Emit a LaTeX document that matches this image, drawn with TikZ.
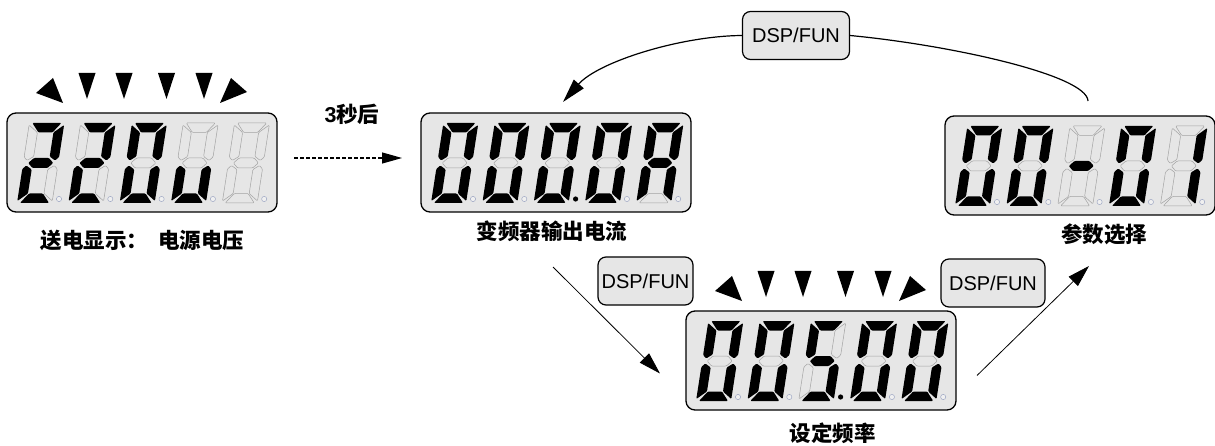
\documentclass[tikz,border=0pt]{standalone}
\usepackage{fontspec}
\setmainfont{Liberation Sans}
\newfontfamily\cjk{Noto Sans CJK SC}
\usetikzlibrary{arrows.meta,positioning,calc}
\definecolor{lcdbg}{HTML}{E6E6E6}
\definecolor{segoff}{HTML}{A3A3A3}
\definecolor{dotoff}{HTML}{9FA8C4}

% one seven-segment digit: #1 origin, #2..#8 segments a..g, #9 decimal point
\newcommand{\lcddigit}[9]{%
  \begin{scope}[shift={#1}, y=1pt]
    \begin{scope}[xslant=0.155]
      \path[seg#2] (3,80) -- (32,80) -- (24.5,70.5) -- (10.5,70.5) -- cycle;
      \path[seg#3] (31.5,42.5) -- (35,46) -- (35,78) -- (25.5,70.5) -- (25.5,46.5) -- cycle;
      \path[seg#4] (31.5,37.5) -- (35,34) -- (35,2) -- (25.5,9.5) -- (25.5,33.5) -- cycle;
      \path[seg#5] (10.5,9.5) -- (24.5,9.5) -- (32,0) -- (3,0) -- cycle;
      \path[seg#6] (3.5,37.5) -- (0,34) -- (0,2) -- (9.5,9.5) -- (9.5,33.5) -- cycle;
      \path[seg#7] (3.5,42.5) -- (0,46) -- (0,78) -- (9.5,70.5) -- (9.5,46.5) -- cycle;
      \path[seg#8] (5,40) -- (10,45) -- (25,45) -- (30,40) -- (25,35) -- (10,35) -- cycle;
    \end{scope}
    \path[dot#9] (42,4) circle[radius=2.6];
  \end{scope}}

% the six blinking marks above a display
\newcommand{\ledmarks}[1]{%
  \begin{scope}[shift={(#1.north west)}]
    \fill[ledtri] (29,-20) -- (46,-35) -- (56,-10) -- cycle;
    \foreach \cx in {80,117,159.5,197}
      \fill[ledtri] (\cx-8.5,-40) -- (\cx+8.5,-40) -- (\cx,-14) -- cycle;
    \fill[ledtri] (213,-10) -- (224,-35) -- (240,-21) -- cycle;
  \end{scope}}

\begin{document}
\begin{tikzpicture}[
  x=1pt, y=-1pt,
  lcd/.style={draw, line width=1.3pt, rounded corners=9pt, fill=lcdbg, minimum width=270pt,
    minimum height=99pt, inner sep=0pt, outer sep=0pt},
  seg1/.style={fill=black, rounded corners=1pt},
  seg0/.style={draw=segoff, fill=lcdbg, line width=0.5pt, rounded corners=1pt},
  dot1/.style={fill=black},
  dot0/.style={draw=dotoff, fill=white!94!black, line width=0.5pt},
  ledtri/.style={fill=black},
  key/.style={draw, line width=1.2pt, rounded corners=8pt, fill=lcdbg, minimum height=48pt,
    inner sep=0pt, font=\fontsize{20}{24}\selectfont},
  lab/.style={inner sep=0pt, font={\fontsize{21.5}{26}\cjk\bfseries}},
  arr/.style={-{Triangle[length=22pt, width=13pt]}, line width=0.8pt},
  dasharr/.style={-{Triangle[length=20pt, width=11pt]}, line width=1.2pt, dash pattern=on 4pt off 2pt}
]
\useasboundingbox (0,0) rectangle (1215,446);

\node[lcd, anchor=north west] (disp1) at (7,113) {};
\node[lcd, anchor=north west] (disp2) at (421,113) {};
\node[lcd, anchor=north west] (disp3) at (945,116) {};
\node[lcd, anchor=north west] (disp4) at (686,311) {};

% 220u
\begin{scope}[shift={(disp1.north west)}]
  \lcddigit{(10,90)}11011010
  \lcddigit{(61.3,90)}11011010
  \lcddigit{(112.6,90)}11111100
  \lcddigit{(163.9,90)}00111000
  \lcddigit{(215.2,90)}00000000
\end{scope}
% 000.0A
\begin{scope}[shift={(disp2.north west)}]
  \lcddigit{(10,90)}11111100
  \lcddigit{(61.3,90)}11111100
  \lcddigit{(112.6,90)}11111101
  \lcddigit{(163.9,90)}11111100
  \lcddigit{(215.2,90)}11101110
\end{scope}
% 00-01
\begin{scope}[shift={(disp3.north west)}]
  \lcddigit{(10,90)}11111100
  \lcddigit{(61.3,90)}11111100
  \lcddigit{(112.6,90)}00000010
  \lcddigit{(163.9,90)}11111100
  \lcddigit{(215.2,90)}01100000
\end{scope}
% 005.00
\begin{scope}[shift={(disp4.north west)}]
  \lcddigit{(10,90)}11111100
  \lcddigit{(61.3,90)}11111100
  \lcddigit{(112.6,90)}10110111
  \lcddigit{(163.9,90)}11111100
  \lcddigit{(215.2,90)}11111100
\end{scope}

\ledmarks{disp1}
\ledmarks{disp4}

\node[lab] (lab1) at ($(disp1.south)+(0.5,28)$) {送电显示：\hspace{10pt}电源电压};
\node[lab] (lab2) at ($(disp2.south)+(-4,19)$) {变频器输出电流};
\node[lab] (lab3) at ($(disp3.south)+(24,19)$) {参数选择};
\node[lab] (lab4) at ($(disp4.south)+(11.5,23)$) {设定频率};
\node[inner sep=0pt, font=\fontsize{21.5}{26}\selectfont] (wait) at (352,114) {\bfseries 3{\cjk 秒后}};

\node[key, minimum width=107pt] (topkey) at ($(disp2.north east)+(105,-77.5)$) {DSP/FUN};
\node[key, minimum width=95pt] (keyL) at ($(disp4.north west)+(-40.5,-30)$) {DSP/FUN};
\node[key, minimum width=104pt] (keyR) at ($(disp4.north east)+(37,-28)$) {DSP/FUN};

\coordinate (d1) at ($(disp1.east)+(17,-4.5)$);
\coordinate (d2) at ($(disp2.west)+(-19,-4.5)$);
\coordinate (t2) at ($(disp2.north west)+(142,-11)$);
\coordinate (t3) at ($(disp3.north)+(8,-15)$);
\coordinate (a1) at ($(disp2.south)+(-3,55)$);
\coordinate (a2) at ($(disp4.west)+(-26,13)$);
\coordinate (b1) at ($(disp4.east)+(21,15)$);
\coordinate (b2) at ($(disp3.south)+(9,51)$);

\draw[dasharr] (d1) -- (d2);
\draw[arr, line width=1.2pt, -{Triangle[length=24pt, width=13pt]}] (topkey.west) .. controls (680,36) and (598,62) .. (t2);
\draw[line width=1.2pt] (topkey.east) .. controls (950,45) and (1087,75) .. (t3);
\draw[arr] (a1) -- (a2);
\draw[arr] (b1) -- (b2);
\end{tikzpicture}
\end{document}
